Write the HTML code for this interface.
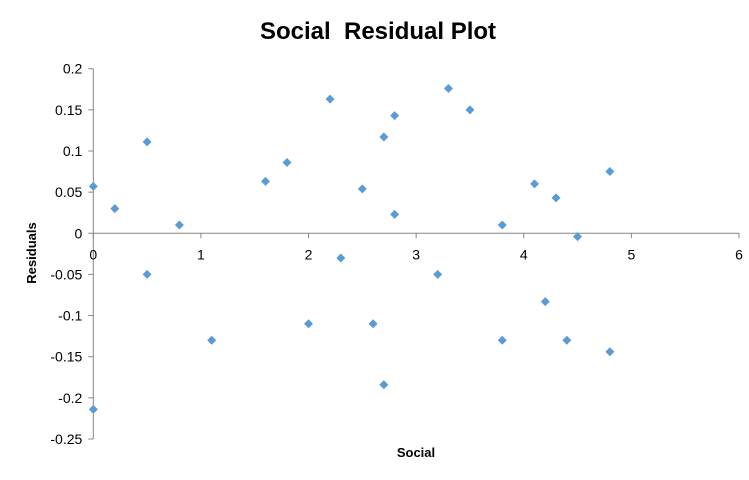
<!DOCTYPE html>
<html><head><meta charset="utf-8"><style>
body{margin:0;background:#fff;font-family:"Liberation Sans",Arial,sans-serif}
</style></head><body>
<svg width="749" height="475" xmlns="http://www.w3.org/2000/svg" id="chart">
<rect width="749" height="475" fill="#fff"/>
<text x="378" y="39" text-anchor="middle" font-size="24" font-weight="bold" font-family="Liberation Sans, sans-serif" xml:space="preserve">Social  Residual Plot</text>
<text x="416" y="457" text-anchor="middle" font-size="13" font-weight="bold">Social</text>
<text transform="translate(36,253) rotate(-90)" text-anchor="middle" font-size="13" font-weight="bold">Residuals</text>
<g id="axes"></g>
<g id="points"></g>
</svg>
<script>
const xVals=[0,0.2,0.5,0.5,0.8,1.1,0,1.6,1.8,2.2,2.5,2.3,2.0,2.6,2.7,2.8,2.8,2.7,3.2,3.3,3.5,3.8,3.8,4.1,4.2,4.3,4.4,4.5,4.8,4.8];
const residuals=[0.057,0.030,0.111,-0.05,0.01,-0.13,-0.214,0.063,0.086,0.163,0.054,-0.03,-0.11,-0.11,0.117,0.143,0.023,-0.184,-0.05,0.176,0.150,0.01,-0.13,0.06,-0.083,0.043,-0.13,-0.004,0.075,-0.144];
const xTicks=[0,1,2,3,4,5,6];
const yTicks=[0.2,0.15,0.1,0.05,0,-0.05,-0.1,-0.15,-0.2,-0.25];
const yTickLabels=["0.2","0.15","0.1","0.05","0","-0.05","-0.1","-0.15","-0.2","-0.25"];
const NS="http://www.w3.org/2000/svg";
const X0=93.3,X1=739,Y0=68.7,Y1=439;
const sx=v=>X0+(v-0)/(6-0)*(X1-X0);
const sy=v=>Y0+(0.2-v)/(0.2+0.25)*(Y1-Y0);
const axes=document.getElementById('axes'),pts=document.getElementById('points');
function mk(tag,attrs,parent){const e=document.createElementNS(NS,tag);for(const k in attrs)e.setAttribute(k,attrs[k]);parent.appendChild(e);return e;}
const ya=mk('line',{x1:X0,y1:Y0,x2:X0,y2:Y1,stroke:'#868686','stroke-width':1},axes);


const xa=mk('line',{x1:X0,y1:sy(0),x2:X1,y2:sy(0),stroke:'#868686','stroke-width':1},axes);


yTicks.forEach((v,i)=>{
 const t=mk('line',{x1:X0-5,y1:sy(v),x2:X0,y2:sy(v),stroke:'#868686'},axes);
 
 
 const l=mk('text',{x:X0-11,y:sy(v)+5,'text-anchor':'end','font-size':14,fill:'#000'},axes);
 l.textContent=yTickLabels[i];
 
 
});
xTicks.forEach(v=>{
 const t=mk('line',{x1:sx(v),y1:sy(0),x2:sx(v),y2:sy(0)+5,stroke:'#868686'},axes);
 
 
 const l=mk('text',{x:sx(v),y:sy(0)+26,'text-anchor':'middle','font-size':14,fill:'#000'},axes);
 l.textContent=String(v);
 
 
});
xVals.forEach((x,i)=>{
 const cx=sx(x),cy=sy(residuals[i]),r=4.5;
 const p=mk('polygon',{points:`${cx},${cy-r} ${cx+r},${cy} ${cx},${cy+r} ${cx-r},${cy}`,fill:'#5b9bd5'},pts);
 
 
});
</script>
</body></html>
